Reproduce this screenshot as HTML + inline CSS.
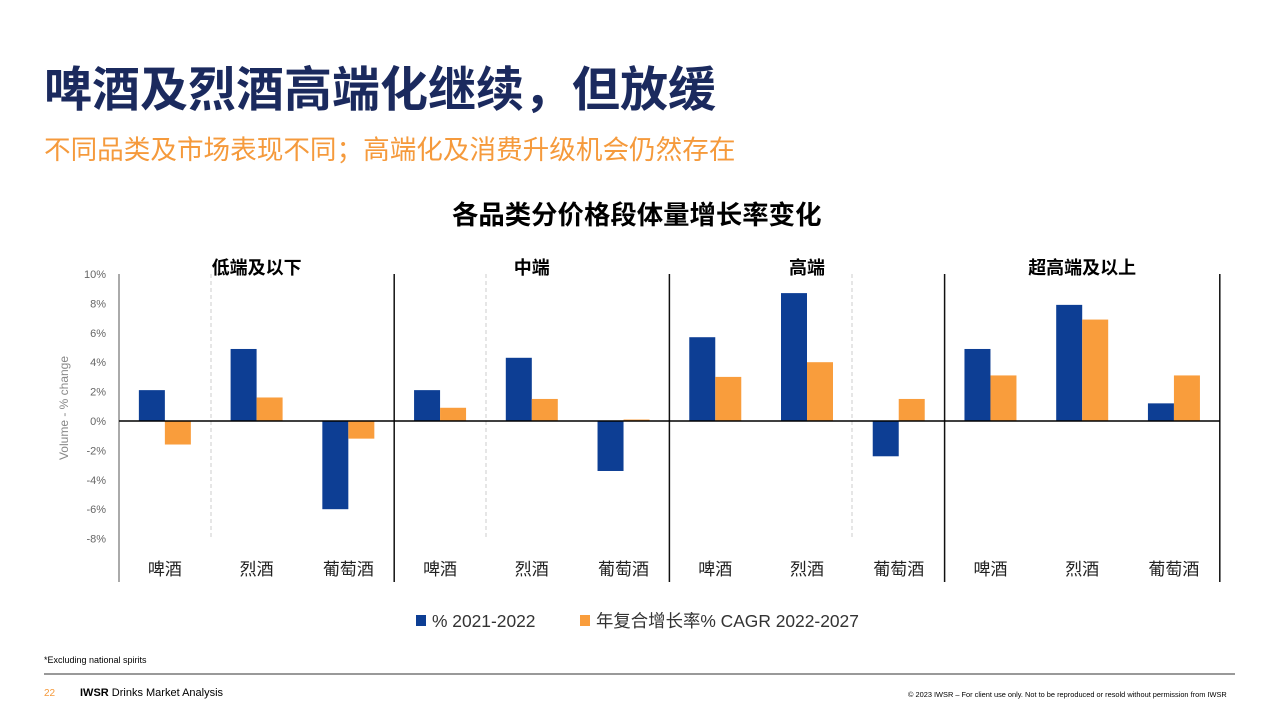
<!DOCTYPE html>
<html><head><meta charset="utf-8"><style>
body{margin:0;width:1280px;height:719px;background:#fff;overflow:hidden;font-family:"Liberation Sans","Noto Sans CJK SC",sans-serif;position:relative}
.t{position:absolute;white-space:nowrap}
</style></head><body>
<div class="t" style="left:44px;top:50px;font-size:48px;font-weight:bold;color:#1b2a5e">啤酒及烈酒高端化继续，但放缓</div>
<div class="t" style="left:44px;top:128px;font-size:26.6px;color:#f59a3c">不同品类及市场表现不同；高端化及消费升级机会仍然存在</div>
<div class="t" style="left:452px;top:193px;font-size:26.4px;font-weight:bold;color:#000">各品类分价格段体量增长率变化</div>
<svg id="c" width="1280" height="719" style="position:absolute;left:0;top:0"></svg>
<div class="t" style="left:44px;top:655px;font-size:9px;color:#000">*Excluding national spirits</div>
<div style="position:absolute;left:44px;top:673px;width:1191px;height:2px;background:#999"></div>
<div class="t" style="left:44px;top:688px;font-size:10px;color:#f59a3c">22</div>
<div class="t" style="left:80px;top:687px;font-size:11px;color:#000"><b>IWSR</b> Drinks Market Analysis</div>
<div class="t" style="left:908px;top:690px;font-size:7.4px;color:#000">© 2023 IWSR – For client use only. Not to be reproduced or resold without permission from IWSR</div>
<script>
const panels=["低端及以下","中端","高端","超高端及以上"];
const categories=["啤酒","烈酒","葡萄酒"];
const series1=[2.1,4.9,-6.0, 2.1,4.3,-3.4, 5.7,8.7,-2.4, 4.9,7.9,1.2];
const series2=[-1.6,1.6,-1.2, 0.9,1.5,0.1, 3.0,4.0,1.5, 3.1,6.9,3.1];
const ticks=[10,8,6,4,2,0,-2,-4,-6,-8];
const tickLabels=["10%","8%","6%","4%","2%","0%","-2%","-4%","-6%","-8%"];
const legend=["% 2021-2022","年复合增长率% CAGR 2022-2027"];
const svg=document.getElementById('c');const NS='http://www.w3.org/2000/svg';
function el(t,a,txt){const e=document.createElementNS(NS,t);for(const k in a)e.setAttribute(k,a[k]);if(txt!=null)e.textContent=txt;svg.appendChild(e);return e;}
const x0=119,pw=275.2,gw=pw/3,bw=26;
const y=v=>421-v*14.7;
ticks.forEach((t,i)=>{const e=el('text',{x:106,y:y(t)+4,'text-anchor':'end','font-size':11,fill:'#666'},tickLabels[i]);

});
const yt=el('text',{x:0,y:0,transform:'translate(68,408) rotate(-90)','text-anchor':'middle','font-size':12,fill:'#888'},'Volume - % change');


[211,486,852].forEach(x=>{const e=el('line',{x1:x,x2:x,y1:274,y2:538,stroke:'#ccc','stroke-dasharray':'4,3'});

});
panels.forEach((p,pi)=>{
 const px=x0+pi*pw;
 const h=el('text',{x:px+pw/2,y:274,'text-anchor':'middle','font-size':18,'font-weight':'bold',fill:'#000'},p);
 
 
 categories.forEach((c,ci)=>{
  const i=pi*3+ci,cx=px+gw*ci+gw/2;
  const v1=series1[i],v2=series2[i];
  const b1=el('rect',{x:cx-bw,y:Math.min(y(v1),y(0)),width:bw,height:Math.abs(y(v1)-y(0)),fill:'#0d3e94'});
  
  
  const b2=el('rect',{x:cx,y:Math.min(y(v2),y(0)),width:bw,height:Math.abs(y(v2)-y(0)),fill:'#f99d3c'});
  
  
  const l=el('text',{x:cx,y:575,'text-anchor':'middle','font-size':17,fill:'#222'},c);
  
  
 });
 const d=el('line',{x1:px+pw,x2:px+pw,y1:274,y2:582,stroke:'#111','stroke-width':1.5});
 
 
});
const ax=el('line',{x1:x0,x2:x0,y1:274,y2:582,stroke:'#555','stroke-width':1});


const zl=el('line',{x1:x0,x2:1220,y1:y(0),y2:y(0),stroke:'#000','stroke-width':1.5});


const lx=[416,580],lc=['#0d3e94','#f99d3c'];
legend.forEach((t,i)=>{const r=el('rect',{x:lx[i],y:615,width:10,height:11,fill:lc[i]});


const e=el('text',{x:lx[i]+16,y:627,'font-size':17.4,fill:'#333'},t);

});
</script>
</body></html>
